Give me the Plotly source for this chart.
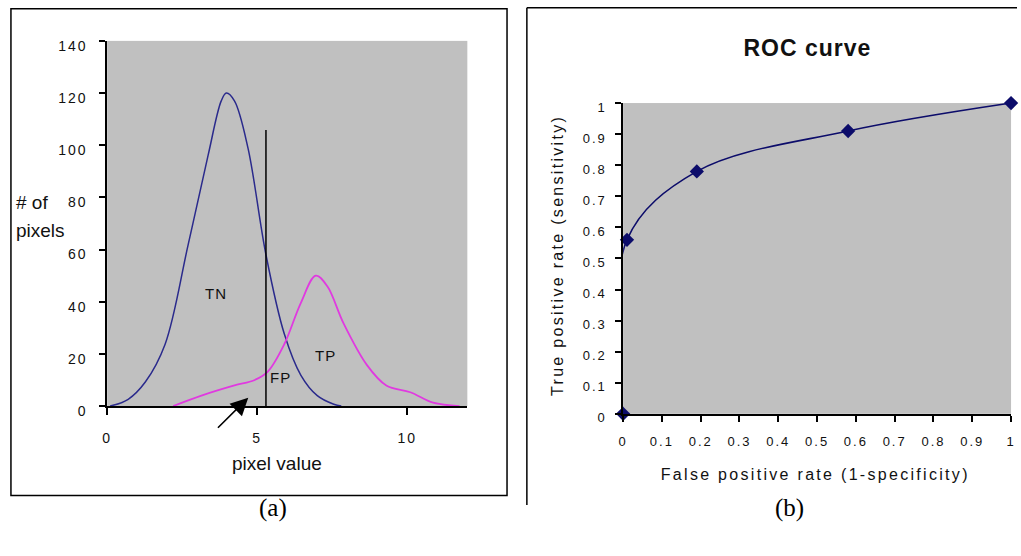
import plotly.graph_objects as go

# ---- data: panel (a) pixel-value distributions ----
tn_x = [0.1, 0.7, 1.27, 1.93, 2.7, 3.36, 3.8, 3.97, 4.24, 4.69, 5.29, 5.9, 6.45, 7.0, 7.55, 7.8]
tn_y = [0, 2.6, 9.2, 23.7, 62, 96, 117, 120, 117, 99, 58, 27.7, 11.9, 4, 0.7, 0]
tp_x = [2.2, 3.14, 4.24, 4.9, 5.35, 5.9, 6.45, 6.95, 7.33, 7.88, 8.65, 9.3, 10.1, 10.86, 11.74]
tp_y = [0, 4, 7.9, 9.9, 13.2, 23.7, 39.5, 50, 46, 31.6, 15.8, 7.9, 5.3, 1.3, 0]
threshold_x = [5.29, 5.29]
threshold_y = [0, 105.8]
a_xticks = [0, 5, 10]
a_yticks = [0, 20, 40, 60, 80, 100, 120, 140]

# ---- data: panel (b) ROC curve ----
fpr = [0, 0.01, 0.19, 0.58, 1.0]
tpr = [0, 0.56, 0.78, 0.91, 1.0]
b_ticks = [0, 0.1, 0.2, 0.3, 0.4, 0.5, 0.6, 0.7, 0.8, 0.9, 1]
b_ticktext = ["0", "0.1", "0.2", "0.3", "0.4", "0.5", "0.6", "0.7", "0.8", "0.9", "1"]

W, H = 1021, 556
def px(x):
    return x / W
def py(y):
    return 1 - y / H

FONT = "Arial, Liberation Sans, sans-serif"
NAVY = "#2a2a8c"
MAG = "#e03ae0"
ROCNAVY = "#0c0c6a"
GREY = "#c0c0c0"

fig = go.Figure()

fig.add_trace(go.Scatter(x=tn_x, y=tn_y, mode="lines", line=dict(color=NAVY, width=1.5, shape="spline"),
                         xaxis="x", yaxis="y", showlegend=False, hoverinfo="skip"))
fig.add_trace(go.Scatter(x=tp_x, y=tp_y, mode="lines", line=dict(color=MAG, width=1.8, shape="spline"),
                         xaxis="x", yaxis="y", showlegend=False, hoverinfo="skip"))
fig.add_trace(go.Scatter(x=threshold_x, y=threshold_y, mode="lines", line=dict(color="black", width=1.5),
                         xaxis="x", yaxis="y", showlegend=False, hoverinfo="skip"))

fig.add_trace(go.Scatter(x=fpr, y=tpr, mode="lines+markers",
                         line=dict(color=ROCNAVY, width=1.6, shape="spline", smoothing=1.0),
                         marker=dict(symbol="diamond", size=11, color=ROCNAVY),
                         cliponaxis=False,
                         xaxis="x2", yaxis="y2", showlegend=False, hoverinfo="skip"))

tickfont_a = dict(family=FONT, size=14, color="#111")
tickfont_b = dict(family=FONT, size=13, color="#111")

fig.update_layout(
    width=W, height=H, autosize=False,
    margin=dict(l=0, r=0, t=0, b=0),
    paper_bgcolor="white", plot_bgcolor=GREY,
    showlegend=False,
    xaxis=dict(domain=[px(104), px(467)], range=[0, 12], tickvals=a_xticks,
               showgrid=False, zeroline=False, showline=True, linecolor="black", linewidth=1.5,
               ticks="outside", ticklen=7, tickcolor="black", tickwidth=1.5,
               tickfont=tickfont_a, anchor="y", ticklabelstandoff=11, fixedrange=True),
    yaxis=dict(domain=[py(415), py(39)], range=[0, 140], tickvals=a_yticks,
               showgrid=False, zeroline=False, showline=True, linecolor="black", linewidth=1.5,
               ticks="outside", ticklen=6, tickcolor="black", tickwidth=1.5,
               tickfont=tickfont_a, anchor="x", ticklabelshift=5, ticklabelstandoff=9, fixedrange=True),
    xaxis2=dict(domain=[px(624), px(1015)], range=[0, 1], tickvals=b_ticks, ticktext=b_ticktext,
                showgrid=False, zeroline=False, showline=True, linecolor="black", linewidth=1.5,
                ticks="outside", ticklen=6, tickcolor="black", tickwidth=1.5,
                tickfont=tickfont_b, anchor="y2", ticklabelstandoff=9, ticklabeloverflow="allow",
                fixedrange=True),
    yaxis2=dict(domain=[py(423), py(103)], range=[0, 1], tickvals=b_ticks, ticktext=b_ticktext,
                showgrid=False, zeroline=False, showline=True, linecolor="black", linewidth=1.5,
                ticks="outside", ticklen=6, tickcolor="black", tickwidth=1.5,
                tickfont=tickfont_b, anchor="x2", ticklabelshift=4, ticklabelstandoff=6, fixedrange=True),
)

shapes = [
    dict(type="rect", xref="paper", yref="paper", x0=px(7), x1=px(507), y0=py(507), y1=py(6),
         line=dict(color="black", width=1.5), fillcolor="rgba(0,0,0,0)"),
    dict(type="line", xref="paper", yref="paper", x0=px(527), x1=px(1021), y0=py(5), y1=py(5),
         line=dict(color="black", width=1.5)),
    dict(type="line", xref="paper", yref="paper", x0=px(527), x1=px(527), y0=py(5), y1=py(517),
         line=dict(color="black", width=1.5)),
]
fig.update_layout(shapes=shapes)

ann = []
def label(text, x, y, size, xref="x", yref="y", **kw):
    d = dict(text=text, x=x, y=y, xref=xref, yref=yref, showarrow=False,
             font=dict(family=FONT, size=size, color="#111"), xanchor="center", yanchor="middle")
    d.update(kw)
    ann.append(d)

# panel (a) region labels
label("TN", 3.64, 43, 15)
label("TP", 7.28, 19.3, 15)
label("FP", 5.77, 11, 15)
label("FN", 3.15, -13.4, 15)
ann.append(dict(x=4.7, y=3.2, ax=3.64, ay=-8.9, xref="x", yref="y", axref="x", ayref="y",
                showarrow=True, arrowhead=2, arrowsize=2.2, arrowwidth=1.6, arrowcolor="black", text=""))
# panel (a) axis titles
label("# of", px(10), py(205), 19, xref="paper", yref="paper", xanchor="left")
label("pixels", px(10), py(234), 19, xref="paper", yref="paper", xanchor="left")
label("pixel value", px(275), py(474), 19, xref="paper", yref="paper")
# panel (b)
label("<b>ROC curve</b>", px(810), py(46), 23, xref="paper", yref="paper")
label("True positive rate (sensitivity)", px(558), py(260), 16, xref="paper", yref="paper", textangle=-90)
label("False positive rate (1-specificity)", px(818), py(485), 16, xref="paper", yref="paper")
# captions
ann.append(dict(text="(a)", x=px(255), y=py(536), xref="paper", yref="paper", showarrow=False,
                font=dict(family="Times New Roman, Liberation Serif, serif", size=25, color="black")))
ann.append(dict(text="(b)", x=px(808), y=py(536), xref="paper", yref="paper", showarrow=False,
                font=dict(family="Times New Roman, Liberation Serif, serif", size=25, color="black")))
fig.update_layout(annotations=ann)

# page tweaks: no body margin, and the wide letter spacing of the original chart fonts
post = """
document.body.style.margin='0';
document.body.style.overflow='hidden';
var sp = function(sel, v){ document.querySelectorAll(sel).forEach(function(e){ e.style.letterSpacing = v; }); };
sp('g.xtick text, g.ytick text', '2px');
sp('g.x2tick text, g.y2tick text', '2px');
document.querySelectorAll('g.annotation text').forEach(function(e){
  var t = e.textContent;
  if (t.indexOf('rate') >= 0) { e.style.letterSpacing = '2.3px'; }
  else if (t === 'TN' || t === 'TP' || t === 'FP' || t === 'FN') { e.style.letterSpacing = '1px'; }
  else if (t === 'ROC curve') { e.style.letterSpacing = '1px'; }
});
"""

fig.write_html("out.html", config={"displayModeBar": False}, post_script=post)
